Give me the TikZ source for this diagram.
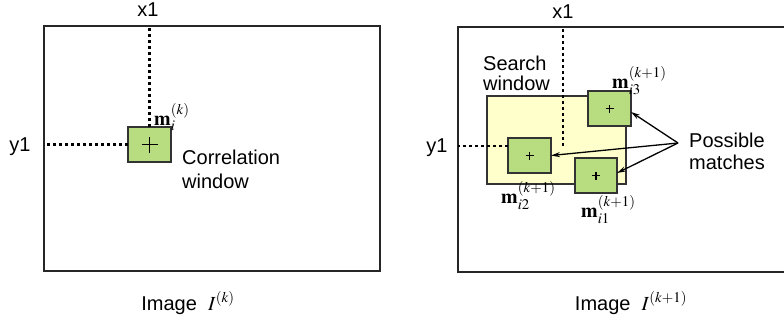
\documentclass[tikz,border=0pt]{standalone}
\usepackage{mathptmx}
\usepackage[no-math]{fontspec}
\setmainfont{Liberation Sans}
\usetikzlibrary{arrows.meta}
\definecolor{patchgreen}{RGB}{183,221,128}
\definecolor{searchyellow}{RGB}{255,255,204}
\begin{document}
\begin{tikzpicture}[x=1pt,y=-1pt,
  frame/.style={draw=black!85, line width=2.8pt, inner sep=0, outer sep=0},
  dots/.style={line width=2.4pt, dash pattern=on 2.6pt off 3.4pt},
  patch/.style={draw=black!80, line width=1.2pt, fill=patchgreen, minimum width=43pt, minimum height=35pt, inner sep=0, outer sep=0},
  lbl/.style={font=\fontsize{20}{24}\selectfont, inner sep=0},
  mlbl/.style={font=\fontsize{20}{24}\selectfont, inner sep=0, anchor=base west},
  ptr/.style={line width=1.3pt, -{Stealth[length=9pt,width=5pt]}}]
\useasboundingbox (0,0) rectangle (784,322);

% ---------- left image ----------
\node[frame, minimum width=336pt, minimum height=245pt] (imgL) at (212,148.5) {};
\node[patch] (boxL) at (149.5,144.5) {};
\draw[dots] (boxL.north) -- (boxL.north |- imgL.north);
\draw[dots] (boxL.west) -- (boxL.west -| imgL.west);
\draw[line width=1.1pt] ([xshift=-8pt]boxL.center) -- ([xshift=8pt]boxL.center)
  ([yshift=-8pt]boxL.center) -- ([yshift=8pt]boxL.center);
\node[lbl] (x1L) at (148,10) {x1};
\node[lbl] (y1L) at (20,147) {y1};
\node[mlbl] (mL) at (154,125) {$\mathbf{m}_{i}^{(k)}$};
\node[lbl, align=left, anchor=north west, font=\fontsize{20}{24}\selectfont] (corr) at (182,150) {Correlation\\window};
\node[lbl] (capL) at (188,303) {Image\ \ $I^{(k)}$};

% ---------- right image ----------
\node[frame, minimum width=332pt, minimum height=245pt] (imgR) at (624,149.5) {};
\node[draw=black!80, line width=1.2pt, fill=searchyellow, minimum width=139pt, minimum height=88pt, inner sep=0] (search) at (556.5,140) {};
\node[patch] (m3) at (609.5,108.5) {};
\node[patch] (m2) at (529.5,155.5) {};
\node[patch, minimum width=42pt] (m1) at (596,175.5) {};
\coordinate (cross) at (563,146);
\draw[dots] (cross) -- (cross |- imgR.north);
\draw[dots] (m2.west |- cross) -- (cross -| imgR.west);
\foreach \b in {m1,m2,m3}{
  \draw[line width=1.4pt] ([xshift=-4pt]\b.center) -- ([xshift=4pt]\b.center)
    ([yshift=-4pt]\b.center) -- ([yshift=4pt]\b.center);
}
\node[lbl] (x1R) at (563,12) {x1};
\node[lbl] (y1R) at (437,148) {y1};
\node[lbl, align=left, anchor=north west, font=\fontsize{20}{20}\selectfont] (sw) at (483,56) {Search\\window};
\node[mlbl] (lm3) at (612,88) {$\mathbf{m}_{i3}^{(k+1)}$};
\node[mlbl] (lm2) at (501,203) {$\mathbf{m}_{i2}^{(k+1)}$};
\node[mlbl] (lm1) at (581,217) {$\mathbf{m}_{i1}^{(k+1)}$};
\node[lbl, align=center, font=\fontsize{20}{22}\selectfont] (pm) at (727,151) {Possible\\matches};
\coordinate (src) at (678,143);
\draw[ptr] (src) -- ([yshift=-3.5pt]m3.east);
\draw[ptr] (src) -- (m2.east);
\draw[ptr] (src) -- ([yshift=2.5pt]m1.east);
\node[lbl] (capR) at (631,303) {Image\ \ $I^{(k+1)}$};
\end{tikzpicture}
\end{document}
